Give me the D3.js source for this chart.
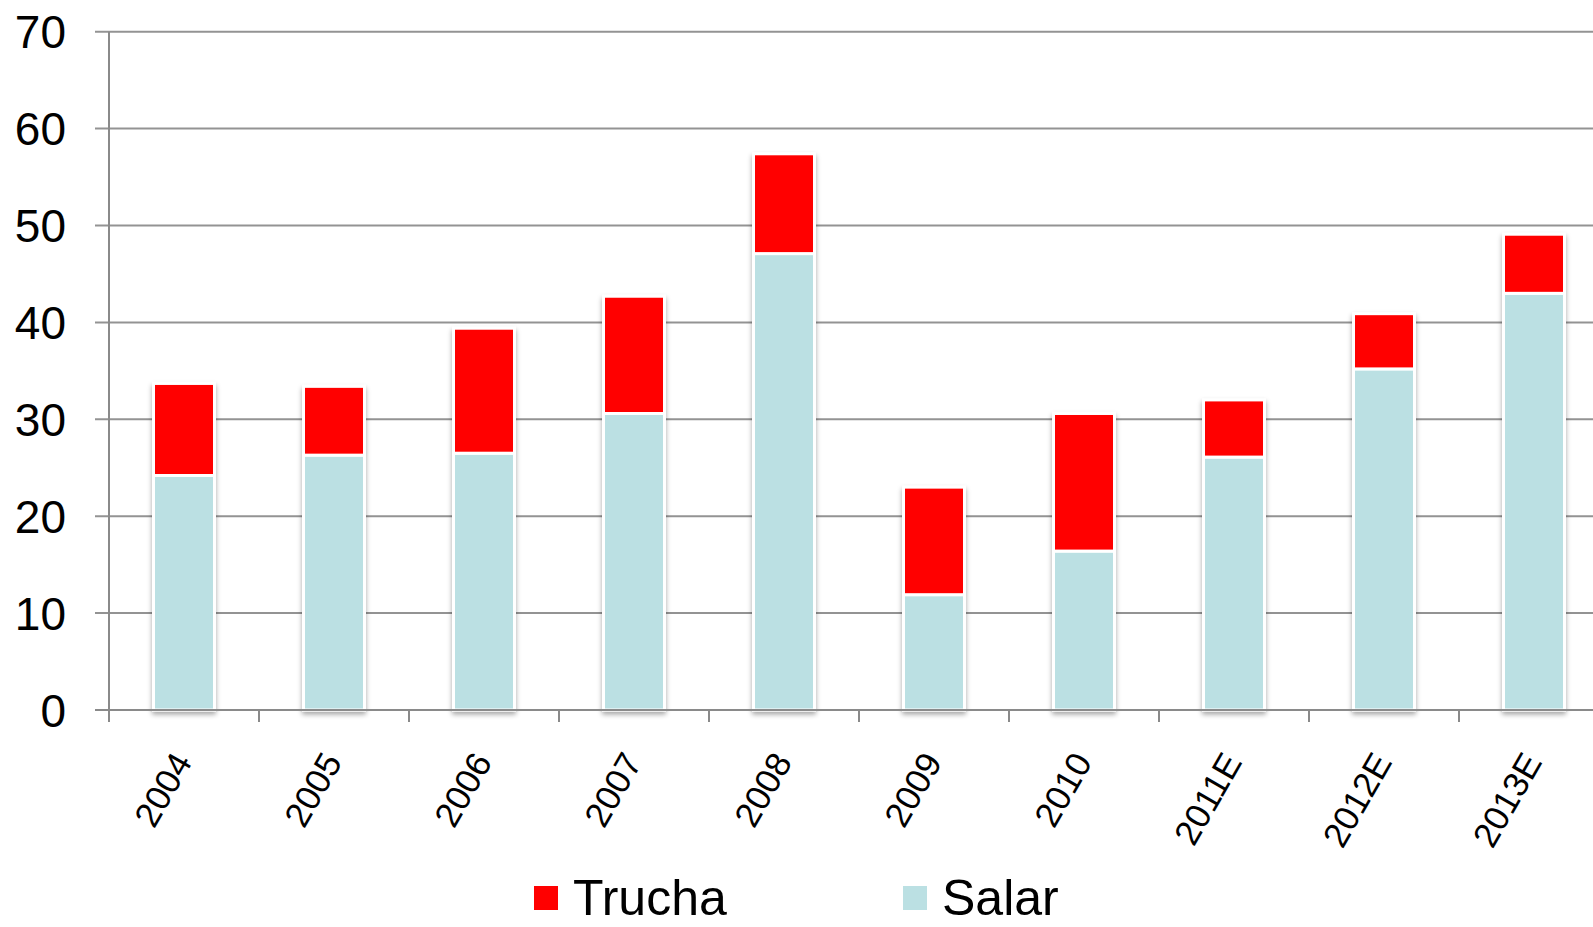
<!DOCTYPE html>
<html>
<head>
<meta charset="utf-8">
<script src="https://cdn.jsdelivr.net/npm/d3@7"></script>
<style>
  body { margin: 0; background: #fff; }
  svg { display: block; font-family: "Liberation Sans", Arial, Helvetica, sans-serif; }
</style>
</head>
<body>
<div id="chart"></div>
<script>
// data
var years = ["2004", "2005", "2006", "2007", "2008", "2009", "2010", "2011E", "2012E", "2013E"];
var salar  = [24.2, 26.3, 26.5, 30.6, 47.1, 11.9, 16.4, 26.1, 35.2, 43.0];
var trucha = [9.5, 7.1, 12.9, 12.1, 10.3, 11.1, 14.2, 5.9, 5.7, 6.1];
var yTicks = [0, 10, 20, 30, 40, 50, 60, 70];
var seriesNames = ["Trucha", "Salar"];
var seriesColors = ["#ff0000", "#bbe0e3"];

var W = 1593, H = 927;
// plot area runs past the right edge of the picture, like the original
var margin = {left: 109, top: 31.7, bottom: 217};
var plotRight = 1609;

var svg = d3.select("#chart").append("svg")
  .attr("width", W).attr("height", H);

// drop shadow for bars
var defs = svg.append("defs");
var f = defs.append("filter").attr("id", "shadow")
  .attr("x", "-30%").attr("y", "-10%").attr("width", "160%").attr("height", "125%");
f.append("feDropShadow").attr("dx", 0).attr("dy", 3).attr("stdDeviation", 2.5)
  .attr("flood-color", "#000").attr("flood-opacity", 0.35);

var x = d3.scaleBand().domain(years).range([margin.left, plotRight]).padding(0);
var y = d3.scaleLinear().domain([0, 70]).range([H - margin.bottom, margin.top]);

// gridlines + left ticks
svg.append("g")
  .selectAll("line").data(yTicks).enter().append("line")
  .attr("x1", margin.left - 14).attr("x2", plotRight)
  .attr("y1", d => y(d)).attr("y2", d => y(d))
  .attr("stroke", "#939393").attr("stroke-width", 2);

// y labels
svg.append("g")
  .selectAll("text").data(yTicks).enter().append("text")
  .attr("x", 66).attr("y", d => y(d)).attr("dy", "0.36em")
  .attr("text-anchor", "end").attr("font-size", 46).attr("fill", "#000")
  .text(d => d);

// stacked data
var stacked = years.map((c, i) => ({year: c, salar: salar[i], total: salar[i] + trucha[i]}));

var bw = 61;
var bars = svg.append("g").selectAll("g").data(stacked).enter().append("g")
  .attr("filter", "url(#shadow)");

bars.append("rect")
  .attr("x", d => x(d.year) + x.bandwidth() / 2 - bw / 2)
  .attr("width", bw)
  .attr("y", d => y(d.salar))
  .attr("height", d => y(0) - y(d.salar))
  .attr("fill", seriesColors[1])
  .attr("stroke", "#fff").attr("stroke-width", 3);

bars.append("rect")
  .attr("x", d => x(d.year) + x.bandwidth() / 2 - bw / 2)
  .attr("width", bw)
  .attr("y", d => y(d.total))
  .attr("height", d => y(d.salar) - y(d.total))
  .attr("fill", seriesColors[0])
  .attr("stroke", "#fff").attr("stroke-width", 3);

// axes lines
svg.append("line")
  .attr("x1", margin.left).attr("x2", margin.left)
  .attr("y1", y(70)).attr("y2", y(0) + 12)
  .attr("stroke", "#8a8a8a").attr("stroke-width", 2);
svg.append("line")
  .attr("x1", margin.left - 14).attr("x2", plotRight)
  .attr("y1", y(0)).attr("y2", y(0))
  .attr("stroke", "#8a8a8a").attr("stroke-width", 2);

// x ticks at band edges
svg.append("g").selectAll("line").data(years.slice(1)).enter().append("line")
  .attr("x1", d => x(d)).attr("x2", d => x(d))
  .attr("y1", y(0)).attr("y2", y(0) + 12)
  .attr("stroke", "#8a8a8a").attr("stroke-width", 2);

// x labels
svg.append("g").selectAll("text").data(years).enter().append("text")
  .attr("transform", d => "translate(" + (x(d) + x.bandwidth() / 2 + 9) + "," + (y(0) + 52) + ") rotate(-60)")
  .attr("text-anchor", "end").attr("font-size", 35).attr("fill", "#000")
  .text(d => d);

// legend
var legX = [534, 903];
var leg = svg.append("g").selectAll("g").data(seriesNames).enter().append("g")
  .attr("transform", (d, i) => "translate(" + legX[i] + ",886)");
leg.append("rect").attr("width", 24).attr("height", 24)
  .attr("fill", (d, i) => seriesColors[i]);
leg.append("text").attr("x", 39).attr("y", 29)
  .attr("font-size", 50).attr("fill", "#000")
  .text(d => d);
</script>
</body>
</html>
